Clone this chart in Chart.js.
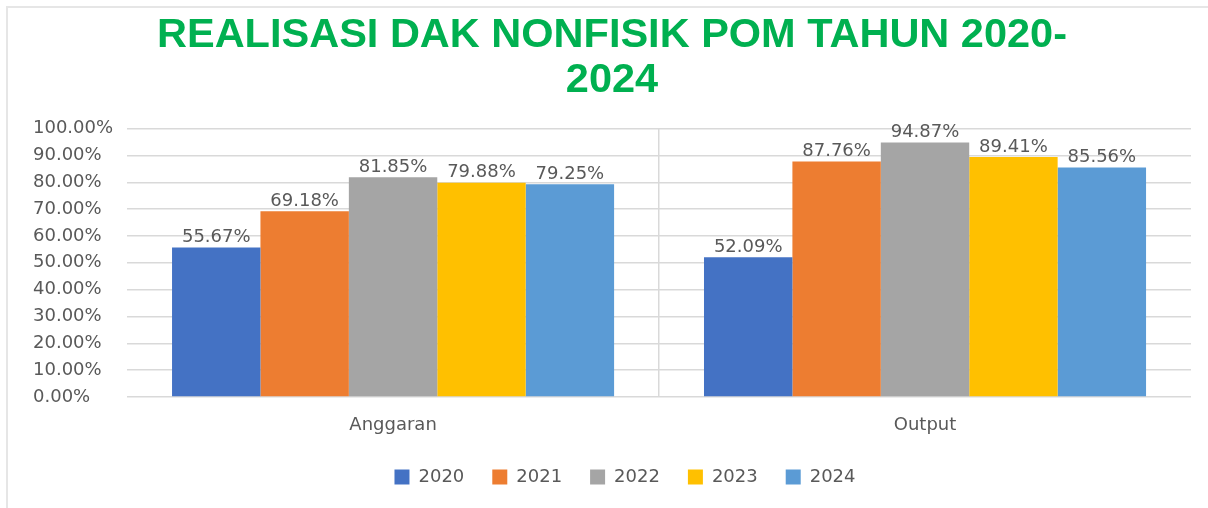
<!DOCTYPE html>
<html>
<head>
<meta charset="utf-8">
<title>Realisasi DAK Nonfisik POM 2020-2024</title>
<script src="https://cdn.jsdelivr.net/npm/chart.js@4.4.1/dist/chart.umd.min.js"></script>
<style>
  html, body { margin: 0; padding: 0; background: #ffffff; }
  #wrap { width: 1208px; height: 508px; }
</style>
</head>
<body>
<div id="wrap"><canvas id="chart" width="1208" height="508"></canvas></div>
<script>
// Categories on the x axis
const categories = ['Anggaran', 'Output'];

// Years shown as series
const years = ['2020', '2021', '2022', '2023', '2024'];

// Realisation percentages per year: [Anggaran, Output]
const val2020 = [55.67, 52.09];
const val2021 = [69.18, 87.76];
const val2022 = [81.85, 94.87];
const val2023 = [79.88, 89.41];
const val2024 = [79.25, 85.56];

// Y axis ticks (percent)
const yTicks = [0, 10, 20, 30, 40, 50, 60, 70, 80, 90, 100];

const seriesValues = [val2020, val2021, val2022, val2023, val2024];
const seriesColors = ['#4472C4', '#ED7D31', '#A5A5A5', '#FFC000', '#5B9BD5'];

const labelFont = { family: "'DejaVu Sans', sans-serif", size: 18 };
const textGray = '#595959';
const gridGray = '#d9d9d9';

const fmtPct = v => v.toFixed(2) + '%';

// Value labels above each bar
const barValueLabels = {
  id: 'barValueLabels',
  afterDatasetsDraw(chart) {
    const ctx = chart.ctx;
    ctx.save();
    ctx.font = `${labelFont.size}px ${labelFont.family}`;
    ctx.fillStyle = textGray;
    ctx.textAlign = 'center';
    ctx.textBaseline = 'alphabetic';
    chart.data.datasets.forEach((ds, di) => {
      const meta = chart.getDatasetMeta(di);
      meta.data.forEach((bar, i) => {
        ctx.fillText(fmtPct(ds.data[i]), bar.x, bar.y - 5.5);
      });
    });
    ctx.restore();
  }
};

// White background with a thin frame on the top and left edges
const frame = {
  id: 'frame',
  beforeDraw(chart) {
    const ctx = chart.ctx;
    ctx.save();
    ctx.fillStyle = '#ffffff';
    ctx.fillRect(0, 0, chart.width, chart.height);
    ctx.strokeStyle = '#e6e6e6';
    ctx.lineWidth = 2;
    ctx.beginPath();
    ctx.moveTo(7, chart.height);
    ctx.lineTo(7, 7);
    ctx.lineTo(chart.width, 7);
    ctx.stroke();
    ctx.restore();
  }
};

// Nudge the legend row a little to the right of the centre line
const legendNudge = {
  id: 'legendNudge',
  afterLayout(chart) {
    if (chart.legend) {
      chart.legend.left += 13;
      chart.legend.right += 13;
    }
  }
};

new Chart(document.getElementById('chart'), {
  type: 'bar',
  data: {
    labels: categories,
    datasets: years.map((y, i) => ({
      label: y,
      data: seriesValues[i],
      backgroundColor: seriesColors[i],
      borderWidth: 0,
      categoryPercentage: 0.831,
      barPercentage: 1.0
    }))
  },
  options: {
    responsive: false,
    animation: false,
    layout: { padding: { left: 33, right: 17, top: 0, bottom: 12 } },
    plugins: {
      title: {
        display: true,
        text: ['REALISASI DAK NONFISIK POM TAHUN 2020-', '2024'],
        color: '#00B050',
        font: { family: "'Liberation Sans', Arial, sans-serif", size: 41.5, weight: 'bold', lineHeight: 1.08 },
        padding: { top: 13, bottom: 26 }
      },
      legend: {
        position: 'bottom',
        labels: {
          boxWidth: 15,
          boxHeight: 15,
          padding: 28,
          color: textGray,
          font: labelFont
        }
      },
      tooltip: { enabled: false }
    },
    scales: {
      x: {
        grid: {
          offset: true,
          drawTicks: false,
          color: c => (c.index === 1 ? gridGray : 'rgba(0,0,0,0)'),
          lineWidth: 1.5
        },
        border: { display: false },
        ticks: { color: textGray, font: labelFont, padding: 18 },
        afterFit: scale => { scale.height = 43; }
      },
      y: {
        min: 0,
        max: 100,
        afterBuildTicks: scale => { scale.ticks = yTicks.map(v => ({ value: v })); },
        grid: { color: gridGray, lineWidth: 1.5, drawTicks: false },
        border: { display: false },
        ticks: {
          color: textGray,
          font: labelFont,
          padding: 7,
          crossAlign: 'far',
          callback: v => fmtPct(v)
        }
      }
    }
  },
  plugins: [frame, legendNudge, barValueLabels]
});
</script>
</body>
</html>
